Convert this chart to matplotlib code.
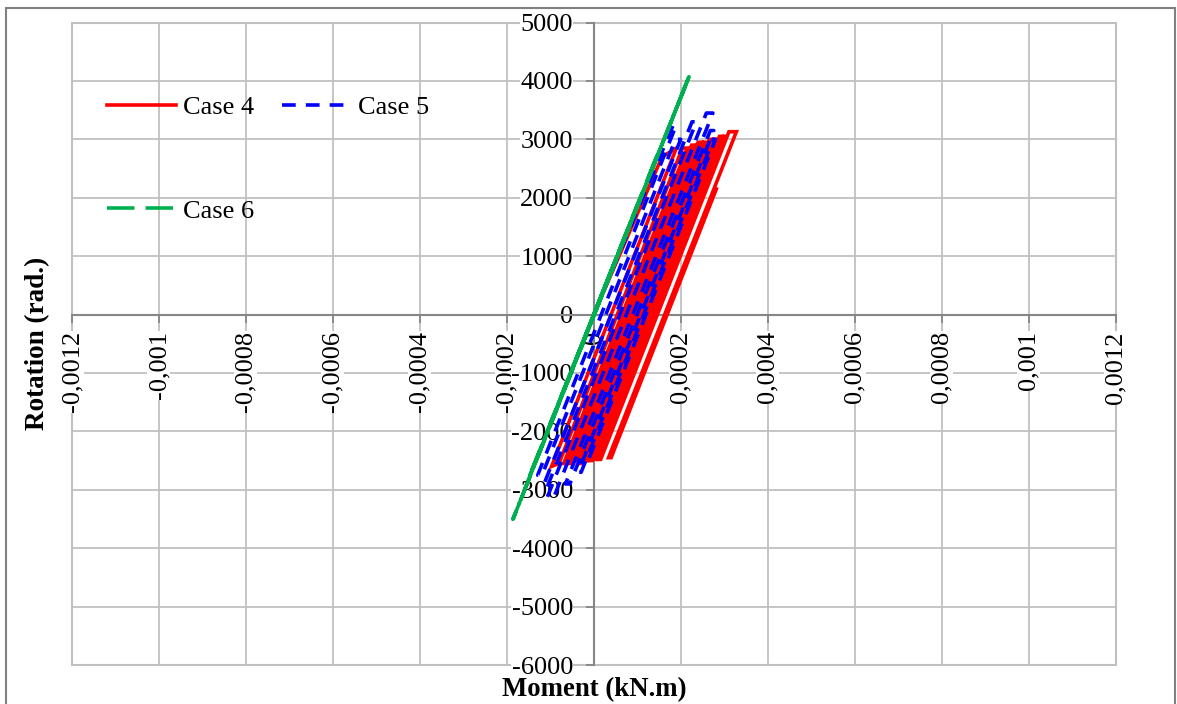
import matplotlib
matplotlib.use("Agg")
import matplotlib.pyplot as plt
from matplotlib.patches import Rectangle

plt.rcParams["font.family"] = ["Liberation Serif", "DejaVu Serif"]

# Turning points of the hysteresis loops (moment on x, rotation on y)
case4_moment = [0.0, 0.000157, 0.000190, -0.000097, -0.000080,
                0.000204, 0.000215, -0.000069, -0.000062,
                0.000225, 0.000233, -0.000054, -0.000049,
                0.000240, 0.000247, -0.000040, -0.000035,
                0.000252, 0.000259, -0.000030, -0.000026,
                0.000266, 0.000272, -0.000018, -0.000014,
                0.000276, 0.000282, -0.000008, -0.000004,
                0.000289, 0.000294, 0.000003, 0.000007,
                0.000298, 0.000303, 0.000012, 0.000016,
                0.000311, 0.000328, 0.000034, 0.000040,
                0.000282]
case4_rotation = [0, 2700, 2850, -2600, -2550,
                  2850, 2850, -2550, -2550,
                  2900, 2900, -2550, -2550,
                  2950, 2950, -2500, -2500,
                  2950, 2950, -2550, -2550,
                  3000, 3000, -2500, -2500,
                  3000, 3000, -2500, -2500,
                  3050, 3050, -2480, -2480,
                  3050, 3050, -2480, -2480,
                  3130, 3130, -2450, -2450,
                  2150]

case5_moment = [0.0, 0.000182, 0.000190, -0.000129, -0.000119,
                0.000188, 0.000200, -0.000117, -0.000107,
                0.000226, 0.000236, -0.000107, -0.000092,
                0.000259, 0.000274, -0.000065, -0.000055,
                0.000268, 0.000276, -0.000036, -0.000029,
                0.000275, 0.000280, -0.000013]
case5_rotation = [0, 3230, 3250, -2750, -2750,
                  3000, 3000, -2950, -2950,
                  3300, 3300, -3130, -3130,
                  3450, 3450, -2900, -2900,
                  3150, 3150, -2700, -2700,
                  3000, 3000, -2500]

case6_moment = [0.0, 0.00005, -0.00005, 0.0001, -0.0001, 0.00015, -0.00015,
                0.000219, -0.000186, 0.000219, -0.000186]
case6_rotation = [0, 935, -935, 1870, -1870, 2805, -2805,
                  4072, -3507, 4072, -3507]

x_ticks = [-0.0012, -0.001, -0.0008, -0.0006, -0.0004, -0.0002, 0.0,
           0.0002, 0.0004, 0.0006, 0.0008, 0.001, 0.0012]
x_labels = ["-0,0012", "-0,001", "-0,0008", "-0,0006", "-0,0004", "-0,0002", "0",
            "0,0002", "0,0004", "0,0006", "0,0008", "0,001", "0,0012"]
y_ticks = [-6000, -5000, -4000, -3000, -2000, -1000, 0, 1000, 2000, 3000, 4000, 5000]
y_labels = [str(v) for v in y_ticks]

W, H = 1177, 704
fig = plt.figure(figsize=(W / 100, H / 100), dpi=100)
ax = fig.add_axes([72 / W, 39 / H, 1043.5 / W, 642.5 / H])
ax.set_xlim(-0.0012, 0.0012)
ax.set_ylim(-6000, 5000)

grid_c = "#c0c0c0"
axis_c = "#868686"
fs = 19

ax.set_xticks(x_ticks, labels=x_labels)
ax.set_yticks(y_ticks, labels=y_labels)

# gridlines kept underneath the tick labels, which sit on white boxes
for v in x_ticks:
    ax.axvline(v, color=grid_c, lw=1.3, zorder=0.5)
for v in y_ticks:
    ax.axhline(v, color=grid_c, lw=1.3, zorder=0.5)
ax.add_patch(Rectangle((0, 0), 1, 1, transform=ax.transAxes, fill=False,
                       edgecolor=grid_c, lw=1.5, clip_on=False, zorder=0.6))

for side in ("top", "right"):
    ax.spines[side].set_visible(False)
ax.spines["left"].set_position(("data", 0))
ax.spines["bottom"].set_position(("data", 0))
for side in ("left", "bottom"):
    ax.spines[side].set_color(axis_c)
    ax.spines[side].set_linewidth(1.5)

ax.tick_params(axis="both", direction="out", length=6, width=1.3, color=axis_c,
               labelsize=fs, labelcolor="black")
ax.tick_params(axis="x", labelrotation=90, pad=6)
ax.tick_params(axis="y", pad=9)
for t in ax.get_xticklabels() + ax.get_yticklabels():
    t.set_bbox(dict(facecolor="white", edgecolor="none", pad=0.3))

lw = 2.6
h4, = ax.plot(case4_moment, case4_rotation, color="#ff0000", lw=lw,
              solid_joinstyle="miter", zorder=3)
h5, = ax.plot(case5_moment, case5_rotation, color="#0000ff", lw=lw,
              dashes=(3.8, 2.8), zorder=3.1)
h6, = ax.plot(case6_moment, case6_rotation, color="#00b050", lw=lw,
              dashes=(7.6, 3.1), zorder=3.2)

ax.legend([h4, h6, h5], ["Case 4", "Case 6", "Case 5"], ncol=2,
          loc="upper left", bbox_to_anchor=(107 / W, 1 - 96 / H),
          bbox_transform=fig.transFigure, frameon=False, fontsize=fs,
          handlelength=2.6, handletextpad=0.29, columnspacing=1.05,
          labelspacing=3.02, borderpad=0, borderaxespad=0)

fig.text(38 / W, 1 - 343 / H, "Rotation (rad.)", rotation=90, fontsize=19.5,
         fontweight="bold", ha="center", va="center")
fig.text(594 / W, 1 - 690 / H, "Moment (kN.m)", fontsize=19.3,
         fontweight="bold", ha="center", va="center")

fig.add_artist(Rectangle((6 / W, -0.05), (1175 - 6) / W, (H - 8) / H + 0.05,
                         transform=fig.transFigure, fill=False,
                         edgecolor="#808080", lw=1.5))

fig.savefig("out.png", dpi=100)
